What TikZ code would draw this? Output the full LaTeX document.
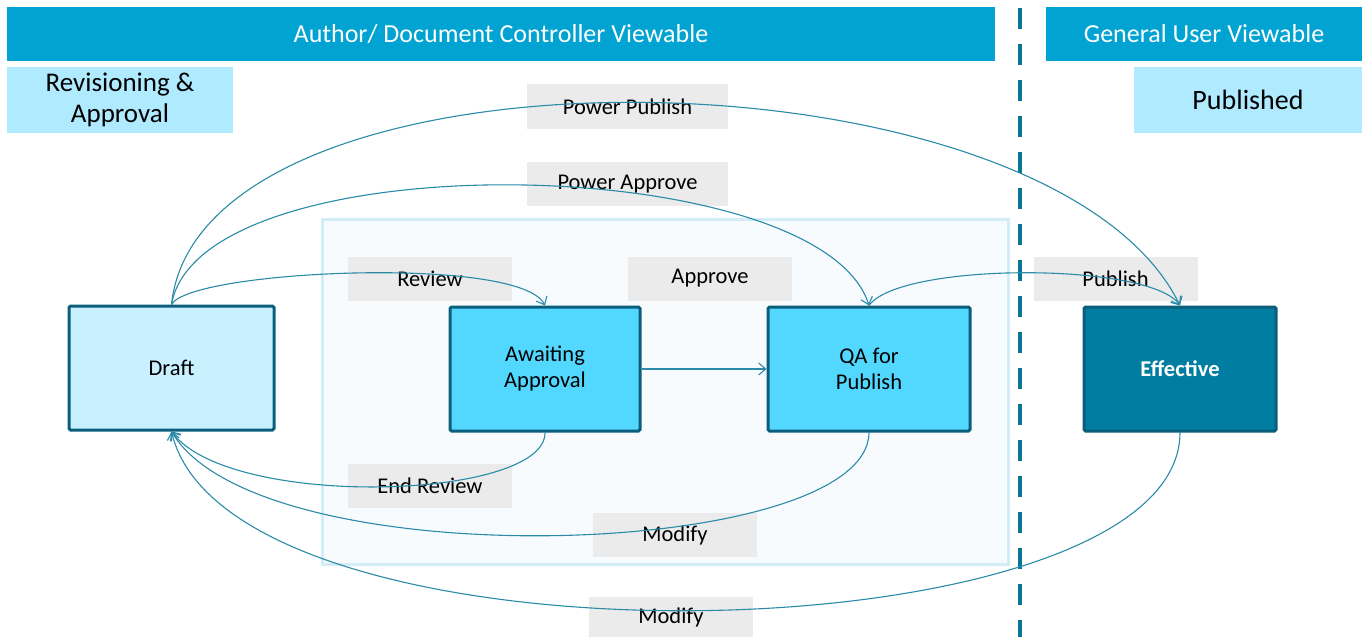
\documentclass[tikz,border=0pt]{standalone}
\usepackage{fontspec}
\setmainfont{Carlito}
\usetikzlibrary{arrows.meta}
\definecolor{hdr}{HTML}{00A3D1}
\definecolor{lightcy}{HTML}{B0EAFF}
\definecolor{lblgray}{HTML}{EBEBEB}
\definecolor{panelfill}{HTML}{F8FBFE}
\definecolor{paneldraw}{HTML}{D3EDF6}
\definecolor{draftfill}{HTML}{C8F0FF}
\definecolor{midfill}{HTML}{52D8FF}
\definecolor{efffill}{HTML}{007DA0}
\definecolor{boxborder}{HTML}{0B5E7C}
\definecolor{conn}{HTML}{2A8AA8}
\definecolor{dashc}{HTML}{0A7494}
\tikzset{
  header/.style={fill=hdr, text=white, inner sep=0pt, font=\fontsize{26}{30}\selectfont},
  section/.style={fill=lightcy, inner sep=0pt, align=center, font=\fontsize{27}{31}\selectfont},
  lbl/.style={fill=lblgray, inner sep=0pt, minimum width=164pt, minimum height=44pt, font=\fontsize{22.5}{26}\selectfont},
  state/.style={draw=boxborder, line width=3pt, rounded corners=1.5pt, inner sep=0pt, align=center, font=\fontsize{22.5}{26}\selectfont},
  conn/.style={draw=conn, line width=1.1pt, -{Straight Barb[length=7pt,width=12pt,line width=1.1pt]}},
}
\begin{document}
\begin{tikzpicture}[x=1pt,y=-1pt]
\useasboundingbox (0,0) rectangle (1367,637);
% headers
\node[header, minimum width=988pt, minimum height=54pt] (h1) at (501,34) {Author/ Document Controller Viewable};
\node[header, minimum width=316pt, minimum height=54pt] (h2) at (1204,34) {General User Viewable};
\node[section, minimum width=226pt, minimum height=66pt] (s1) at (120,100) {Revisioning \&\\Approval};
\node[section, minimum width=228pt, minimum height=66pt, font=\fontsize{28}{32}\selectfont] (s2) at (1248,100) {Published};
% dashed divider
\coordinate (dtop) at (1020,8);
\coordinate (dbot) at (1020,637);
\draw[dashc, line width=4pt, dash pattern=on 21pt off 15pt] (dtop) -- (dbot);
% inner panel
\node[fill=panelfill, draw=paneldraw, line width=3pt, minimum width=686pt, minimum height=345pt, inner sep=0pt] (panel) at (665,391.5) {};
% labels
\node[lbl, minimum width=201pt, minimum height=45pt] (lpp) at (627.5,106.5) {Power Publish};
\node[lbl, minimum width=201pt, minimum height=44pt] (lpa) at (627.5,184) {Power Approve};
\node[lbl] (lrev) at (430,278.5) {Review};
\node[lbl] (lapp) at (710,278.5) {Approve};
\node[lbl] (lpub) at (1115.5,278.5) {Publish};
\node[lbl] (lend) at (430,486) {End Review};
\node[lbl] (lmod1) at (675,535) {Modify};
\node[lbl, minimum height=40pt] (lmod2) at (671,617) {Modify};
% states
\node[state, fill=draftfill, minimum width=205pt, minimum height=124pt] (draft) at (171.5,368) {Draft};
\node[state, fill=midfill, minimum width=190pt, minimum height=124pt] (await) at (545,369) {Awaiting\\Approval};
\node[state, fill=midfill, minimum width=202pt, minimum height=124pt] (qa) at (869,369) {QA for\\Publish};
\node[state, fill=efffill, text=white, minimum width=192pt, minimum height=124pt, font=\fontsize{22.5}{26}\selectfont\bfseries] (eff) at (1180,369) {Effective};
% connectors
\draw[conn] (draft.north) .. controls (190,270) and (520,255) .. (await.north);
\draw[conn] (draft.north) .. controls (200,140) and (820,150) .. (qa.north);
\draw[conn] (draft.north) .. controls (200,30) and (1050,40) .. (eff.north);
\draw[conn] (qa.north) .. controls (900,262) and (1150,262) .. (eff.north);
\draw[conn] (await.east) -- (qa.west);
\draw[conn] (await.south) .. controls (546,500) and (230,510) .. (draft.south);
\draw[conn] (qa.south) .. controls (868,560) and (260,580) .. (draft.south);
\draw[conn] (eff.south) .. controls (1180,660) and (230,680) .. (draft.south);
\end{tikzpicture}
\end{document}
